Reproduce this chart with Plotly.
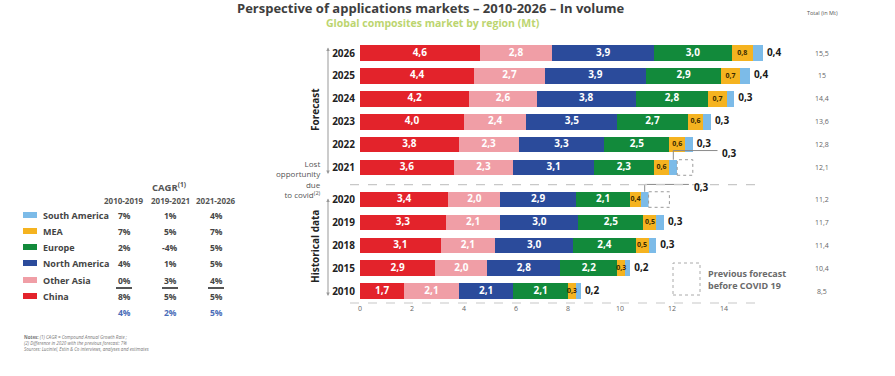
import numpy as np
import plotly.graph_objects as go

# ---------------- data ----------------
years = ["2010", "2015", "2018", "2019", "2020", "2021", "2022", "2023", "2024", "2025", "2026"]
china = [1.7, 2.9, 3.1, 3.3, 3.4, 3.6, 3.8, 4.0, 4.2, 4.4, 4.6]
other_asia = [2.1, 2.0, 2.1, 2.1, 2.0, 2.3, 2.3, 2.4, 2.6, 2.7, 2.8]
north_america = [2.1, 2.8, 3.0, 3.0, 2.9, 3.1, 3.3, 3.5, 3.8, 3.9, 3.9]
europe = [2.1, 2.2, 2.4, 2.5, 2.1, 2.3, 2.5, 2.7, 2.8, 2.9, 3.0]
mea = [0.3, 0.3, 0.5, 0.5, 0.4, 0.6, 0.6, 0.6, 0.7, 0.7, 0.8]
south_america = [0.2, 0.2, 0.3, 0.3, 0.3, 0.3, 0.3, 0.3, 0.3, 0.4, 0.4]
lost_vs_previous = [0, 0, 0, 0, 0.8, 0.6, 0, 0, 0, 0, 0]
totals = ["8,5", "10,4", "11,4", "11,7", "11,2", "12,1", "12,8", "13,6", "14,4", "15", "15,5"]

regions = ["South America", "MEA", "Europe", "North America", "Other Asia", "China"]
cagr_2010_2019 = ["7%", "7%", "2%", "4%", "0%", "8%"]
cagr_2019_2021 = ["1%", "5%", "-4%", "1%", "3%", "5%"]
cagr_2021_2026 = ["4%", "7%", "5%", "5%", "4%", "5%"]
cagr_total = ["4%", "2%", "5%"]
cagr_periods = ["2010-2019", "2019-2021", "2021-2026"]
x_ticks = [0, 2, 4, 6, 8, 10, 12, 14]

# ---------------- styles ----------------
COL = {
    "China": "#e3232b",
    "Other Asia": "#f09ea6",
    "North America": "#2b4b9b",
    "Europe": "#128a3b",
    "MEA": "#f5b320",
    "South America": "#7cbbe8",
}
FONT = "Open Sans"
W, H = 895, 376


def px(x):
    return x / W


def py(y):
    return 1 - y / H


def fmt(v):
    return f"{v:.1f}".replace(".", ",")


# y positions: historical rows consecutive, forecast block shifted by a gap
ypos = np.array([i if int(y) <= 2020 else i + 0.4 for i, y in enumerate(years)], dtype=float)

fig = go.Figure()

series = [("China", china), ("Other Asia", other_asia), ("North America", north_america),
          ("Europe", europe), ("MEA", mea), ("South America", south_america)]
for name, vals in series:
    fig.add_trace(go.Bar(
        y=ypos, x=vals, orientation="h", name=name, width=0.68,
        marker=dict(color=COL[name], line=dict(width=0)),
        showlegend=False, hoverinfo="skip",
    ))

# labels inside the bars
cum = np.zeros(len(years))
for name, vals in series:
    v = np.array(vals)
    centers = cum + v / 2
    cum = cum + v
    if name == "South America":
        continue
    if name == "MEA":
        tf = dict(size=7, color="#3a2a00", family=FONT, weight="bold")
    else:
        tf = dict(size=10, color="white", family=FONT, weight="bold")
    fig.add_trace(go.Scatter(
        x=centers, y=ypos, mode="text", text=[fmt(x) for x in vals],
        textposition="middle center", textfont=tf,
        showlegend=False, hoverinfo="skip", cliponaxis=False))
stack_end = cum

# South America labels outside the bars (except rows with a previous-forecast box)
sa_idx = [i for i in range(len(years)) if lost_vs_previous[i] == 0]
fig.add_trace(go.Scatter(
    x=[stack_end[i] + 0.15 for i in sa_idx], y=[ypos[i] for i in sa_idx], mode="text",
    text=[fmt(south_america[i]) for i in sa_idx], textposition="middle right",
    textfont=dict(size=10, color="#1a1a1a", family=FONT, weight="bold"),
    showlegend=False, hoverinfo="skip", cliponaxis=False))

shapes = []
annotations = []


def ann(x, y, text, size, color, xanchor="center", yanchor="middle", **kw):
    d = dict(x=x, y=y, xref=kw.pop("xref", "paper"), yref=kw.pop("yref", "paper"),
             text=text, showarrow=False, xanchor=xanchor, yanchor=yanchor,
             font=dict(size=size, color=color, family=FONT))
    d.update(kw)
    annotations.append(d)


# previous forecast boxes + leader lines for SA labels
for i in range(len(years)):
    if lost_vs_previous[i] > 0:
        shapes.append(dict(type="rect", xref="x", yref="y",
                           x0=stack_end[i], x1=stack_end[i] + lost_vs_previous[i],
                           y0=ypos[i] - 0.34, y1=ypos[i] + 0.34,
                           line=dict(color="#9a9a9a", width=1, dash="dot"),
                           fillcolor="white"))
        xs = stack_end[i] - south_america[i] / 2
        ytop = ypos[i] + 0.34
        yl = ypos[i] + (0.74 if years[i] == "2021" else 0.66)
        xe = stack_end[i] + 1.55
        shapes.append(dict(type="path", xref="x", yref="y",
                           path=f"M {xs},{ytop} L {xs},{yl} L {xe},{yl}",
                           line=dict(color="#8a8a8a", width=1)))
        ann(xe + 0.1, yl - 0.12, f"<b>{fmt(south_america[i])}</b>", 10, "#1a1a1a",
            xanchor="left", xref="x", yref="y")

# dashed separators
sep_y = (ypos[4] + ypos[5]) / 2 - 0.05
shapes.append(dict(type="line", xref="paper", yref="y", x0=px(350), x1=px(762),
                   y0=sep_y, y1=sep_y, line=dict(color="#c8c8c8", width=1.2, dash="dash")))
shapes.append(dict(type="line", xref="paper", yref="paper", x0=px(350), x1=px(762),
                   y0=py(303), y1=py(303), line=dict(color="#c8c8c8", width=1.2, dash="dash")))

# totals column
ann(px(822), py(13), "Total (in Mt)", 5.5, "#555")
for i, t in enumerate(totals):
    ann(px(822), ypos[i], t, 7, "#666", yref="y")

# titles
ann(px(431), py(8), "<b>Perspective of applications markets – 2010-2026 – In volume</b>", 13, "#3e3e3e")
ann(px(433), py(23), "<b>Global composites market by region (Mt)</b>", 10.5, "#bcd56f")

# section labels and arrows
ann(px(315), py(110), "<b>Forecast</b>", 10, "#222", textangle=-90)
ann(px(315), py(247), "<b>Historical data</b>", 10, "#222", textangle=-90)
for (ytop, ybot) in [(46, 174), (197, 296)]:
    annotations.append(dict(x=px(328), y=py(ybot), xref="paper", yref="paper", text="",
                            showarrow=True, ax=0, ay=-(ybot - ytop), arrowside="end+start",
                            arrowhead=2, arrowsize=0.7, arrowwidth=1, arrowcolor="#999"))
ann(px(323), py(179), "Lost<br>opportunity<br>due<br>to covid<sup>(2)</sup>", 8, "#555",
    xanchor="right", align="right")

# previous forecast legend box
shapes.append(dict(type="rect", xref="paper", yref="paper", x0=px(673), x1=px(700),
                   y0=py(295), y1=py(263), line=dict(color="#aaa", width=1, dash="dot")))
ann(px(706), py(279), "<b>Previous forecast<br>before COVID 19</b>", 9, "#6a6a6a",
    xanchor="left", align="left")

# left legend + CAGR table
ann(px(169), py(187), "<b>CAGR<sup>(1)</sup></b>", 9.5, "#555")
col_x = [124, 170, 216]
for cx, per in zip(col_x, cagr_periods):
    ann(px(cx), py(200), f"<b>{per}</b>", 8, "#555")
row_y = [215, 231, 247, 263, 280, 296]
for r, name in enumerate(regions):
    yy = row_y[r]
    shapes.append(dict(type="rect", xref="paper", yref="paper", x0=px(23), x1=px(37),
                       y0=py(yy + 3), y1=py(yy - 3), line=dict(width=0), fillcolor=COL[name]))
    ann(px(41), py(yy), f"<b>{name}</b>", 9, "#444", xanchor="left")
    for cx, col in zip(col_x, [cagr_2010_2019, cagr_2019_2021, cagr_2021_2026]):
        ann(px(cx), py(yy), f"<b>{col[r]}</b>", 8.5, "#444")
for cx in col_x:
    shapes.append(dict(type="line", xref="paper", yref="paper", x0=px(cx - 8), x1=px(cx + 8),
                       y0=py(288), y1=py(288), line=dict(color="#555", width=2)))
for cx, v in zip(col_x, cagr_total):
    ann(px(cx), py(312), f"<b>{v}</b>", 8.5, "#4a6cb8")

# notes
ann(px(22), py(343), "<b>Notes:</b> <i>(1) CAGR = Compound Annual Growth Rate ;<br>"
    "(2) Difference in 2020 with the previous forecast: 7%<br>"
    "Sources: Lucintel, Estin & Co interviews, analyses and estimates</i>", 4.5, "#777",
    xanchor="left", align="left")

x_range_max = 16.5
fig.update_layout(
    width=W, height=H, margin=dict(l=0, r=0, t=0, b=0, autoexpand=False),
    paper_bgcolor="white", plot_bgcolor="white",
    barmode="stack", bargap=0,
    font=dict(family=FONT),
    xaxis=dict(range=[0, x_range_max], domain=[px(360), px(360 + 26 * x_range_max)],
               tickvals=x_ticks, ticktext=[str(v) for v in x_ticks], automargin=False,
               showgrid=False, zeroline=False, showline=False, ticks="",
               tickfont=dict(size=7, color="#666", family=FONT)),
    yaxis=dict(range=[-0.52, 10.97], domain=[py(303), py(40)], automargin=False,
               tickvals=list(ypos), ticktext=[f"<b>{y}</b>" for y in years],
               showgrid=False, zeroline=False, showline=False, ticks="",
               ticklabelstandoff=4,
               tickfont=dict(size=10, color="#222", family=FONT)),
    shapes=shapes, annotations=annotations,
)

fig.write_html("out.html", config={"displayModeBar": False},
               post_script="document.body.style.margin='0px';")
